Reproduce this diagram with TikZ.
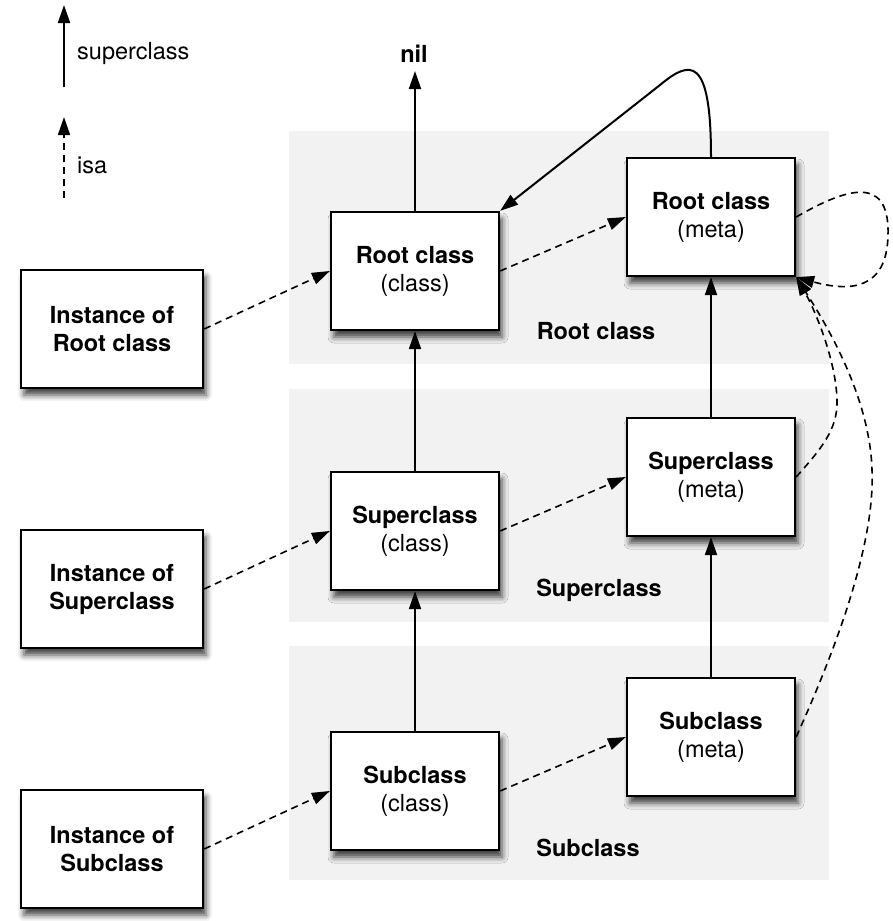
\documentclass[tikz,border=0pt]{standalone}
\usepackage{fontspec}
\setmainfont{TeX Gyre Heros}
\usetikzlibrary{arrows.meta,shadows.blur}
\begin{document}
\begin{tikzpicture}[x=1pt,y=-1pt,
 box/.style={draw,line width=2.3pt,fill=white,minimum width=168pt,minimum height=118pt,align=center,
   font=\fontsize{23.5}{28}\selectfont,inner sep=0pt,
   blur shadow={shadow xshift=3pt,shadow yshift=-7pt,shadow blur radius=6pt,shadow opacity=75}},
 ibox/.style={box,minimum width=182pt,font=\bfseries\fontsize{23.5}{28}\selectfont},
 band/.style={fill=black!5,draw=none},
 suparrow/.style={line width=2pt,-{Triangle[length=18pt,width=12pt]}},
 isaarrow/.style={line width=1.6pt,dash pattern=on 7pt off 5pt,-{Triangle[length=18pt,width=12pt]}},
 lbl/.style={font=\bfseries\fontsize{23.5}{28}\selectfont,inner sep=0pt},
 legend/.style={font=\fontsize{23.5}{28}\selectfont,inner sep=0pt,anchor=west}
]
\useasboundingbox (0,0) rectangle (892,921);
% bands
\fill[band] (289,131) rectangle (829,364);
\fill[band] (289,389) rectangle (829,622);
\fill[band] (289,646) rectangle (829,880);
\node[lbl] (lroot) at (596,331) {Root class};
\node[lbl] (lsup) at (599,590) {Superclass};
\node[lbl] (lsub) at (588,848) {Subclass};
% legend
\coordinate (la1) at (64,87);
\coordinate (la2) at (64,5);
\draw[suparrow] (la1) -- (la2);
\node[legend] (lt1) at (77,53) {superclass};
\coordinate (lb1) at (64,198);
\coordinate (lb2) at (64,117);
\draw[isaarrow] (lb1) -- (lb2);
\node[legend] (lt2) at (77,165) {isa};
% nodes
\node[ibox] (iRoot) at (112,329) {Instance of\\Root class};
\node[ibox] (iSup) at (112,589) {Instance of\\Superclass};
\node[ibox] (iSub) at (112,849) {Instance of\\Subclass};
\node[box] (cRoot) at (415,271) {\textbf{Root class}\\(class)};
\node[box] (cSup) at (415,531) {\textbf{Superclass}\\(class)};
\node[box] (cSub) at (415,791) {\textbf{Subclass}\\(class)};
\node[box] (mRoot) at (711,217) {\textbf{Root class}\\(meta)};
\node[box] (mSup) at (711,477) {\textbf{Superclass}\\(meta)};
\node[box] (mSub) at (711,737) {\textbf{Subclass}\\(meta)};
\node[lbl] (nil) at (414,54) {nil};
\coordinate (niltip) at (415,71);
% superclass arrows
\draw[suparrow] (cRoot.north) -- (niltip);
\draw[suparrow] (cSup.north) -- (cRoot.south);
\draw[suparrow] (cSub.north) -- (cSup.south);
\draw[suparrow] (mSup.north) -- (mRoot.south);
\draw[suparrow] (mSub.north) -- (mSup.south);
\draw[suparrow] (mRoot.north) .. controls (711,55) and (690,60) .. (660,85) -- (cRoot.north east);
% isa arrows
\draw[isaarrow] (iRoot.east) -- (cRoot.west);
\draw[isaarrow] (iSup.east) -- (cSup.west);
\draw[isaarrow] (iSub.east) -- (cSub.west);
\draw[isaarrow] (cRoot.east) -- (mRoot.west);
\draw[isaarrow] (cSup.east) -- (mSup.west);
\draw[isaarrow] (cSub.east) -- (mSub.west);
\draw[isaarrow] (mRoot.east) .. controls (840,192) and (890,170) .. (888,235) .. controls (887,290) and (850,292) .. (mRoot.south east);
\draw[isaarrow] (mSup.east) .. controls (820,450) and (838,430) .. (837,400) .. controls (836,360) and (815,310) .. (mRoot.south east);
\draw[isaarrow] (mSub.east) .. controls (840,640) and (875,540) .. (872,470) .. controls (870,400) and (830,330) .. (mRoot.south east);
\end{tikzpicture}
\end{document}
